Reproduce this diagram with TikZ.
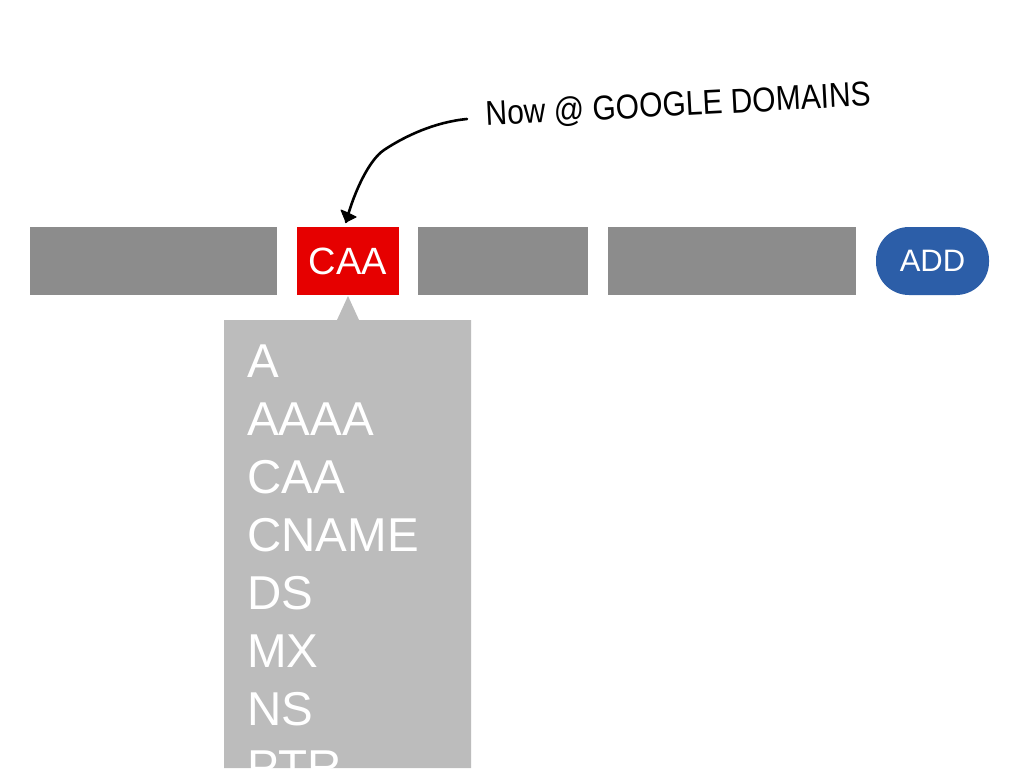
\documentclass[tikz,border=0pt]{standalone}
\usepackage{fontspec}
\setmainfont{Liberation Sans}
\definecolor{barGray}{HTML}{8C8C8C}
\definecolor{panelGray}{HTML}{BCBCBC}
\definecolor{capRed}{HTML}{E60000}
\definecolor{addBlue}{HTML}{2C5EA8}
\tikzset{
  barbox/.style={draw=none,anchor=north west,minimum height=68pt,inner sep=0pt,outer sep=0pt},
  listitem/.style={anchor=base west,text=white,inner sep=0pt,font=\fontsize{47.5pt}{47.5pt}\selectfont},
  handnote/.style={anchor=base west,inner sep=0pt,text=black}
}
\begin{document}
\begin{tikzpicture}[x=1pt,y=-1pt]
\useasboundingbox (0,0) rectangle (1024,768);
\fill[white] (0,0) rectangle (1024,768);
\begin{scope}
\clip (0,0) rectangle (1024,768);
\node[barbox,fill=barGray,minimum width=247pt] (g1) at (30,227) {};
\node[barbox,fill=capRed,minimum width=102pt,text=white,font=\fontsize{38pt}{38pt}\selectfont] (caa) at (297,227) {CAA};
\node[barbox,fill=barGray,minimum width=170pt] (g2) at (418,227) {};
\node[barbox,fill=barGray,minimum width=248pt] (g3) at (608,227) {};
\node[barbox,fill=addBlue,minimum width=113pt,rounded corners=33pt,text=white,font=\fontsize{31pt}{31pt}\selectfont] (add) at (876,227) {ADD};
\fill[panelGray] (224,320) -- (337,320) -- (348,296) -- (359,320) -- (471,320) -- (471,768) -- (224,768) -- cycle;
\node[listitem] (i1) at (247,377) {A};
\node[listitem] (i2) at (247,435) {AAAA};
\node[listitem] (i3) at (247,493) {CAA};
\node[listitem] (i4) at (247,551) {CNAME};
\node[listitem] (i5) at (247,609) {DS};
\node[listitem] (i6) at (247,667) {MX};
\node[listitem] (i7) at (247,725) {NS};
\node[listitem] (i8) at (247,783) {PTR};
\end{scope}
\node[handnote,rotate=3] (note) at (486,126) {\fontsize{30pt}{30pt}\selectfont\scalebox{1}[1.15]{Now @ GOOGLE DOMAINS}};
\coordinate (s) at (467,119);
\coordinate (tip) at (346,222);
\draw[line width=2.6pt,line cap=round] (s) .. controls (435,122) and (405,136) .. (384,150) .. controls (369,160) and (354,192) .. (tip);
\fill[black,line join=round,draw=black,line width=1pt] (tip) -- (356,217) -- (348,213) -- (341,210) -- cycle;
\end{tikzpicture}
\end{document}
